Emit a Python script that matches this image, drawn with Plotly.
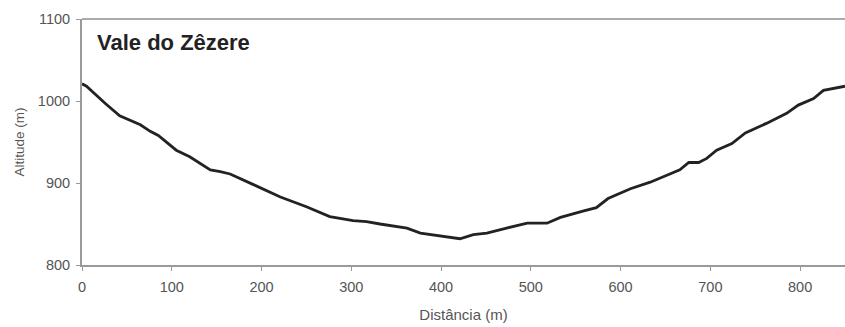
import plotly.graph_objects as go

distance = [0, 5, 26, 42, 65, 76, 85, 105, 120, 143, 154, 165, 191, 221, 250, 276, 302, 317,
            332, 362, 377, 400, 421, 436, 451, 473, 496, 518, 533, 559, 573, 586, 611, 633,
            652, 666, 676, 687, 696, 707, 724, 739, 763, 785, 798, 815, 826, 850]
altitude = [1021, 1018, 997, 982, 971, 963, 958, 940, 932, 916, 914, 911, 898, 883, 871, 859,
            854, 853, 850, 845, 839, 835, 832, 837, 839, 845, 851, 851, 858, 866, 870, 881,
            893, 901, 910, 916, 925, 925, 930, 940, 948, 961, 973, 985, 995, 1003, 1013, 1018]

title_text = "Vale do Zêzere"
x_ticks = [0, 100, 200, 300, 400, 500, 600, 700, 800]
y_ticks = [800, 900, 1000, 1100]

fig = go.Figure()
fig.add_trace(go.Scatter(x=distance, y=altitude, mode="lines",
                         line=dict(color="#222222", width=2.8), showlegend=False))

font_family = "Liberation Sans, Arial, sans-serif"
fig.update_layout(
    width=845, height=327,
    margin=dict(l=82, r=0, t=19, b=62),
    paper_bgcolor="white", plot_bgcolor="white",
    font=dict(family=font_family, color="#555555", size=14),
    annotations=[dict(text="<b>" + title_text + "</b>", x=0.017, y=0.905, xref="paper", yref="paper",
                      xanchor="left", yanchor="middle", showarrow=False,
                      font=dict(size=22, color="#222222", family=font_family))],
    shapes=[dict(type="line", xref="paper", yref="paper", x0=0, x1=1, y0=1, y1=1,
                 line=dict(color="#aaaaaa", width=2))],
)
fig.update_xaxes(range=[0, 850], tickvals=x_ticks, showgrid=False, zeroline=False,
                 showline=True, linecolor="#9a9a9a", linewidth=2,
                 ticks="outside", ticklen=4, tickcolor="#9a9a9a", ticklabelstandoff=4,
                 title=dict(text="Distância (m)", font=dict(size=15, color="#555555"), standoff=15),
                 tickfont=dict(size=14.5, color="#555555"))
fig.update_yaxes(range=[800, 1100], tickvals=y_ticks, showgrid=False, zeroline=False,
                 showline=True, linecolor="#9a9a9a", linewidth=2,
                 ticks="outside", ticklen=4, tickcolor="#9a9a9a", ticklabelstandoff=3,
                 title=dict(text="Altitude (m)", font=dict(size=13.5, color="#555555"), standoff=10),
                 tickfont=dict(size=14.5, color="#555555"))

fig.write_html("out.html")
